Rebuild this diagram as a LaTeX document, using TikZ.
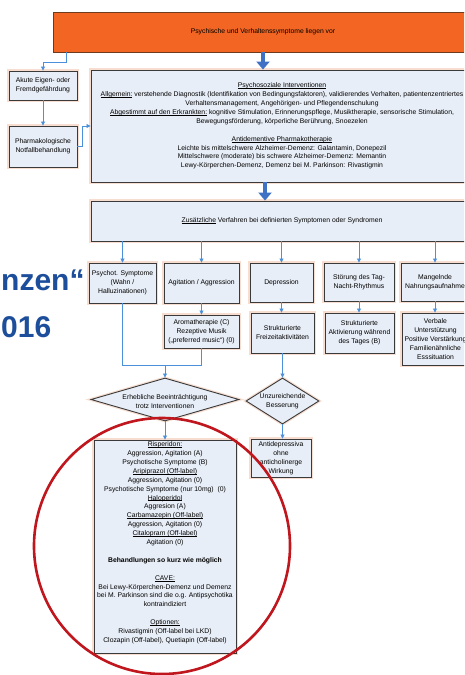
\documentclass[tikz,border=0pt]{standalone}
\usepackage{fontspec}
\setmainfont{Liberation Sans}
\usetikzlibrary{arrows.meta,shapes.geometric}
\definecolor{boxfill}{HTML}{E8EEF7}
\definecolor{boxline}{HTML}{3A3A3A}
\definecolor{halo}{HTML}{F6DDD0}
\definecolor{orangefill}{HTML}{F26522}
\definecolor{orangeline}{HTML}{6E3A1E}
\definecolor{thinblue}{HTML}{4A90DA}
\definecolor{thickblue}{HTML}{3F72C4}
\definecolor{circred}{HTML}{C0171E}
\definecolor{titleblue}{HTML}{1D4E9B}
\newcommand\myul[1]{\leavevmode\setbox0\hbox{#1}\rlap{\rule[-0.9pt]{\wd0}{0.45pt}}\box0\relax}
\begin{document}
\begin{tikzpicture}[x=1pt,y=-1pt,
  txt/.style={font=\fontsize{6.8}{8.9}\selectfont, align=center, inner sep=0pt},
  box/.style={txt, draw=boxline, fill=boxfill, line width=0.9pt,
              preaction={draw=halo, line width=3.2pt}},
  topbox/.style={txt, draw=orangeline, fill=orangefill, line width=0.9pt},
  decision/.style={shape=diamond, draw=boxline, fill=boxfill, line width=0.9pt,
              preaction={draw=halo, line width=3.2pt}, inner sep=0pt},
  conn/.style={draw=thinblue, line width=0.8pt, -{Triangle[length=4pt,width=4pt]}},
  plainconn/.style={draw=thinblue, line width=0.8pt},
  bigarrow/.style={draw=thickblue, line width=4pt, -{Triangle[length=8pt,width=13pt]}},
  bigtitle/.style={font=\bfseries\fontsize{30}{30}\selectfont, text=titleblue, inner sep=0pt, anchor=base west}
]
\clip (0,0) rectangle (464,675);
\fill[white] (0,0) rectangle (464,675);

% background slide text
\node[bigtitle] (t1) at (1,290) {nzen“};
\node[bigtitle] (t2) at (1,337) {016};

% top
\node[topbox, minimum width=420, minimum height=40] (top) at (263,32)
  {Psychische und Verhaltenssymptome liegen vor};

% left column
\node[box, minimum width=68, minimum height=29] (akute) at (43,85.5)
  {Akute Eigen- oder\\Fremdgefährdung};
\node[box, minimum width=68, minimum height=41] (pharma) at (43,146.5)
  {Pharmakologische\\Notfallbehandlung};

% psychosocial box
\node[box, minimum width=382, minimum height=112] (psycho) at (282,126)
  {\myul{Psychosoziale Interventionen}\\
   \myul{Allgemein:} verstehende Diagnostik (Identifikation von Bedingungsfaktoren), validierendes Verhalten, patientenzentriertes\\
   Verhaltensmanagement, Angehörigen- und Pflegendenschulung\\
   \myul{Abgestimmt auf den Erkrankten:} kognitive Stimulation, Erinnerungspflege, Musiktherapie, sensorische Stimulation,\\
   Bewegungsförderung, körperliche Berührung, Snoezelen\\[8.9pt]
   \myul{Antidementive Pharmakotherapie}\\
   Leichte bis mittelschwere Alzheimer-Demenz: Galantamin, Donepezil\\
   Mittelschwere (moderate) bis schwere Alzheimer-Demenz: Memantin\\
   Lewy-Körperchen-Demenz, Demenz bei M. Parkinson: Rivastigmin};

\node[box, minimum width=382, minimum height=40] (zus) at (282,221)
  {\myul{Zusätzliche} Verfahren bei definierten Symptomen oder Syndromen};

% row of symptoms
\node[box, minimum width=67, minimum height=40] (psy) at (122.5,283)
  {Psychot. Symptome\\(Wahn /\\Halluzinationen)};
\node[box, minimum width=75, minimum height=40] (agi) at (201.5,283)
  {Agitation / Aggression};
\node[box, minimum width=63, minimum height=39] (dep) at (281.5,282.5)
  {Depression};
\node[box, minimum width=70, minimum height=38] (tag) at (359,282)
  {Störung des Tag-\\Nacht-Rhythmus};
\node[box, minimum width=68, minimum height=38] (nahr) at (435,282)
  {Mangelnde\\Nahrungsaufnahme};

% second row
\node[box, minimum width=75, minimum height=33] (aroma) at (201.5,331.5)
  {Aromatherapie (C)\\Rezeptive Musik\\(„preferred music“) (0)};
\node[box, minimum width=63, minimum height=40] (frei) at (282.5,333)
  {Strukturierte\\Freizeitaktivitäten};
\node[box, minimum width=69, minimum height=40] (akt) at (359.5,333)
  {Strukturierte\\Aktivierung während\\des Tages (B)};
\node[box, minimum width=67, minimum height=52] (verb) at (435.5,339)
  {Verbale\\Unterstützung\\Positive Verstärkung\\Familienähnliche\\Esssituation};

% decisions
\node[decision, minimum width=148, minimum height=43] (d1) at (165,399.5) {};
\node[txt] (d1t) at (165,401.5) {Erhebliche Beeinträchtigung\\trotz Interventionen};
\node[decision, minimum width=73, minimum height=46] (d2) at (282.5,401) {};
\node[txt] (d2t) at (282.5,401.5) {Unzureichende\\Besserung};

\node[box, minimum width=60, minimum height=38] (anti) at (281,458)
  {Antidepressiva\\ohne\\anticholinerge\\Wirkung};

\node[box, minimum width=142, minimum height=213] (med) at (165,546.5)
  {\myul{Risperidon:}\\
   Aggression, Agitation (A)\\
   Psychotische Symptome (B)\\
   \myul{Aripiprazol (Off-label)}\\
   Aggression, Agitation (0)\\
   Psychotische Symptome (nur 10mg) \ (0)\\
   \myul{Haloperidol}\\
   Aggresion (A)\\
   \myul{Carbamazepin (Off-label)}\\
   Aggression, Agitation (0)\\
   \myul{Citalopram (Off-label)}\\
   Agitation (0)\\[8.9pt]
   \textbf{Behandlungen so kurz wie möglich}\\[8.9pt]
   \myul{CAVE:}\\
   Bei Lewy-Körperchen-Demenz und Demenz\\
   bei M. Parkinson sind die o.g. Antipsychotika\\
   kontraindiziert\\[8.9pt]
   \myul{Optionen:}\\
   Rivastigmin (Off-label bei LKD)\\
   Clozapin (Off-label), Quetiapin (Off-label)\\
   \mbox{}};

% connectors
\draw[bigarrow] (top.south) -- (top.south |- psycho.north);
\draw[bigarrow] ([xshift=2pt]top.south |- psycho.south) -- ([xshift=2pt]top.south |- zus.north);
\draw[conn] ([xshift=14pt]top.south west) -- ++(0,10) -| (akute.north);
\draw[conn] (akute.south) -- (pharma.north);
\draw[conn] (pharma.east) -- ++(5,0) |- (psycho.west);

\foreach \n in {psy,agi,dep,tag,nahr}
  \draw[conn] (\n.north |- zus.south) -- (\n.north);
\draw[conn] (agi.south) -- (aroma.north);
\draw[conn] (dep.south) -- (dep.south |- frei.north);
\draw[conn] (tag.south) -- (tag.south |- akt.north);
\draw[conn] (nahr.south) -- (nahr.south |- verb.north);

\coordinate (merge) at (165,365);
\draw[plainconn] (psy.south) |- (merge);
\draw[plainconn] (aroma.south) |- (merge);
\draw[conn] (merge) -- (d1.north);
\draw[conn] (frei.south) -- (d2.north);
\draw[conn] (d2.south) -- (d2.south |- anti.north);
\draw[conn] (d1.south) -- (med.north);

% red circle overlay
\draw[circred, line width=2.6pt] (162,546) circle[radius=128pt];
\end{tikzpicture}
\end{document}
